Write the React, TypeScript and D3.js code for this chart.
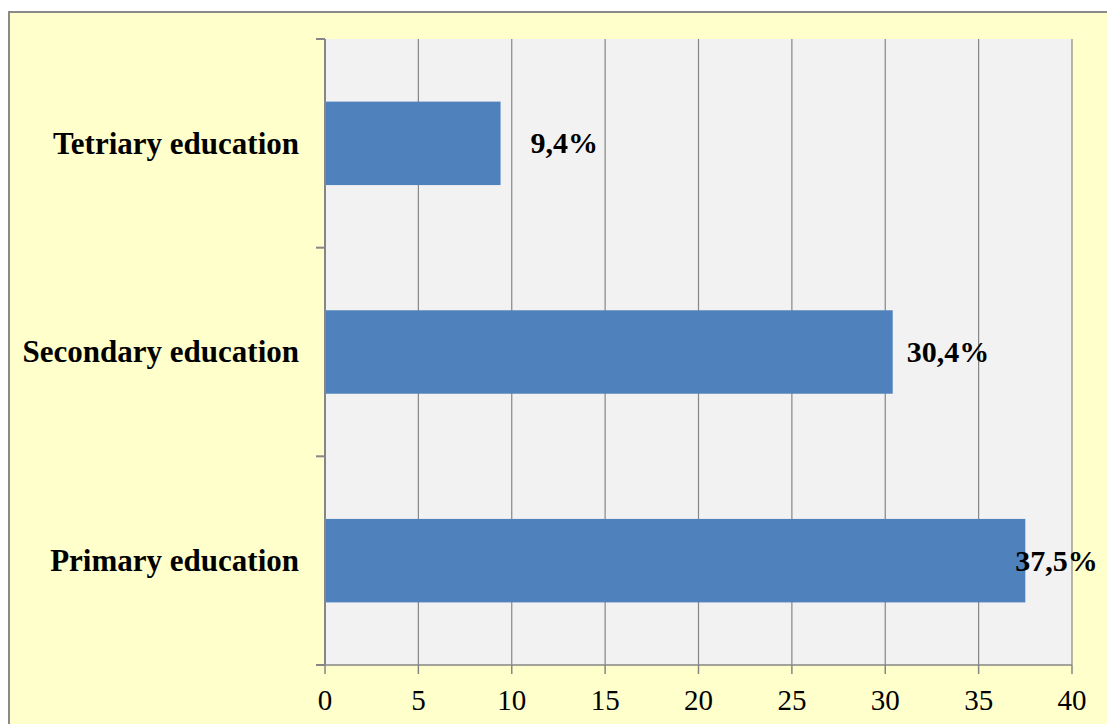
import React from "react";
import * as d3 from "d3";

const categories = ["Tetriary education", "Secondary education", "Primary education"];
const values = [9.4, 30.4, 37.5];
const valueLabels = ["9,4%", "30,4%", "37,5%"];
const xTicks = [0, 5, 10, 15, 20, 25, 30, 35, 40];

const W = 1107;
const H = 724;
const plot = { left: 325, right: 1072, top: 39, bottom: 665 };
const labelDx = [30, 14, -10];

export default function App() {
  const x = d3.scaleLinear().domain([0, 40]).range([plot.left, plot.right]);
  const y = d3
    .scaleBand<string>()
    .domain(categories)
    .range([plot.top, plot.bottom])
    .paddingInner(0.6)
    .paddingOuter(0.3);
  const bandStep = (plot.bottom - plot.top) / categories.length;
  const yTickPos = d3.range(categories.length + 1).map((i) => plot.top + i * bandStep);
  const font = "'Liberation Serif', 'Times New Roman', serif";
  const grid = "#868686";

  return (
    <svg
      width={W}
      height={H}
      style={{ position: "absolute", left: 0, top: 0, display: "block" }}
      fontFamily={font}
    >
      <rect x={0} y={0} width={W} height={H} fill="#ffffff" />
      <rect x={9} y={12} width={W + 20} height={H + 20} fill="#FFFFCC" stroke="#8a8a8a" strokeWidth={2} />
      <rect x={plot.left} y={plot.top} width={plot.right - plot.left} height={plot.bottom - plot.top} fill="#F2F2F2" />
      {xTicks.slice(1).map((t) => (
        <line key={"g" + t} x1={x(t)} x2={x(t)} y1={plot.top} y2={plot.bottom} stroke={grid} strokeWidth={1.2} />
      ))}
      {categories.map((c, i) => {
        const y0 = y(c)!;
        const bw = y.bandwidth();
        return (
          <g key={c}>
            <rect x={x(0)} y={y0} width={x(values[i]) - x(0)} height={bw} fill="#4F81BD" />
            <text
              x={x(values[i]) + labelDx[i]}
              y={y0 + bw / 2}
              dy="0.33em"
              fontSize={30}
              fontWeight="bold"
              fill="#000"
            >
              {valueLabels[i]}
            </text>
            <text
              x={299}
              y={y0 + bw / 2}
              dy="0.33em"
              textAnchor="end"
              fontSize={31}
              fontWeight="bold"
              fill="#000"
            >
              {c}
            </text>
          </g>
        );
      })}
      <line x1={plot.left} x2={plot.left} y1={plot.top} y2={plot.bottom} stroke={grid} strokeWidth={2} />
      {yTickPos.map((p, i) => (
        <line key={"yt" + i} x1={plot.left - 9} x2={plot.left} y1={p} y2={p} stroke={grid} strokeWidth={2} />
      ))}
      <line x1={plot.left - 9} x2={plot.right} y1={plot.bottom} y2={plot.bottom} stroke={grid} strokeWidth={1.5} />
      {xTicks.map((t) => (
        <g key={"xt" + t}>
          <line x1={x(t)} x2={x(t)} y1={plot.bottom} y2={plot.bottom + 9} stroke={grid} strokeWidth={1.5} />
          <text x={x(t)} y={plot.bottom + 45} textAnchor="middle" fontSize={29} fill="#000">
            {t}
          </text>
        </g>
      ))}
    </svg>
  );
}
